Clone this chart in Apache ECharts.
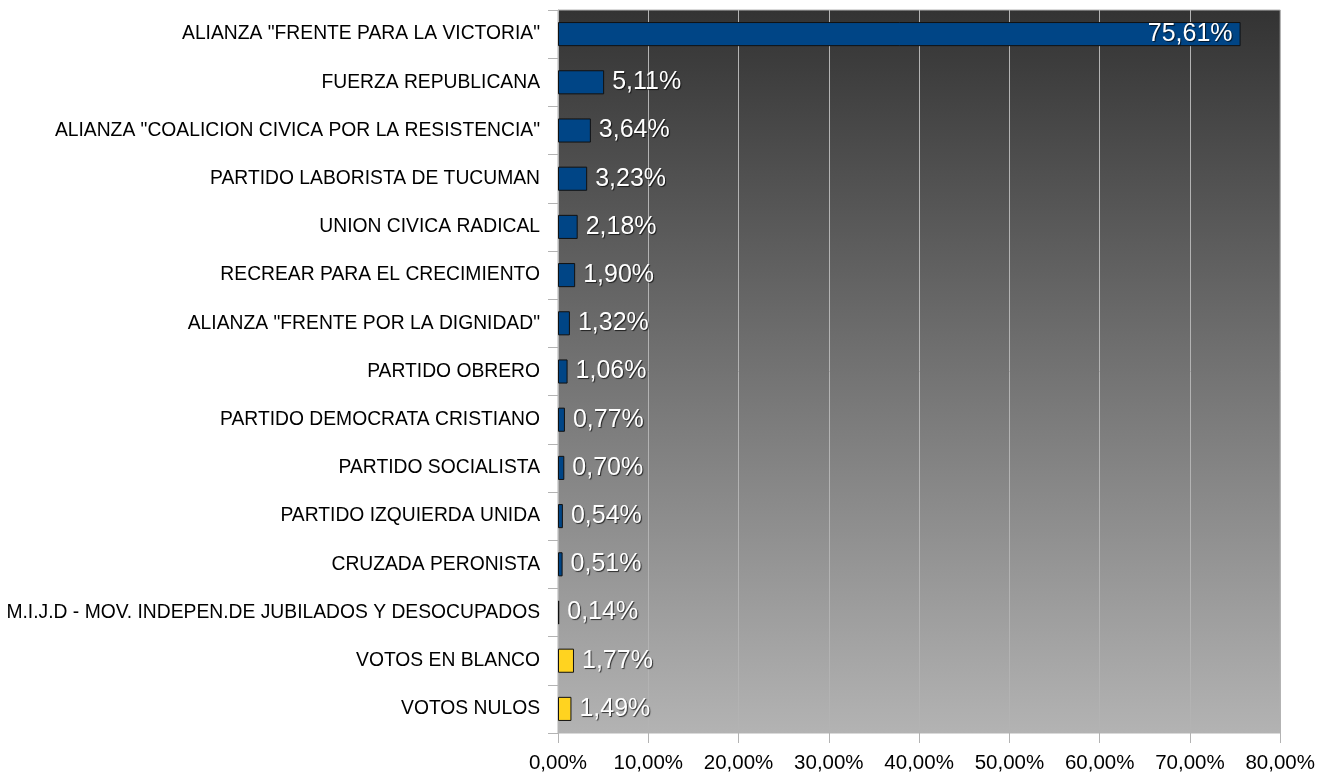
<!DOCTYPE html>
<html>
<head>
<meta charset="utf-8">
<script src="https://cdn.jsdelivr.net/npm/echarts@6/dist/echarts.min.js"></script>
<style>
  html, body { margin: 0; padding: 0; background: #fff; }
  #chart { width: 1318px; height: 774px; }
</style>
</head>
<body>
<div id="chart"></div>
<script>
const categories = [
  'ALIANZA "FRENTE PARA LA VICTORIA"',
  'FUERZA REPUBLICANA',
  'ALIANZA "COALICION CIVICA POR LA RESISTENCIA"',
  'PARTIDO LABORISTA DE TUCUMAN',
  'UNION CIVICA RADICAL',
  'RECREAR PARA EL CRECIMIENTO',
  'ALIANZA "FRENTE POR LA DIGNIDAD"',
  'PARTIDO OBRERO',
  'PARTIDO DEMOCRATA CRISTIANO',
  'PARTIDO SOCIALISTA',
  'PARTIDO IZQUIERDA UNIDA',
  'CRUZADA PERONISTA',
  'M.I.J.D - MOV. INDEPEN.DE JUBILADOS Y DESOCUPADOS',
  'VOTOS EN BLANCO',
  'VOTOS NULOS'
];
const values = [75.61, 5.11, 3.64, 3.23, 2.18, 1.90, 1.32, 1.06, 0.77, 0.70, 0.54, 0.51, 0.14, 1.77, 1.49];
const blankNull = ['VOTOS EN BLANCO', 'VOTOS NULOS'];

const fmt = v => v.toFixed(2).replace('.', ',') + '%';

const myChart = echarts.init(document.getElementById('chart'));

const data = values.map((v, i) => ({
  value: v,
  itemStyle: { color: blankNull.includes(categories[i]) ? '#ffd320' : '#004586' },
  label: i === 0 ? { position: 'insideRight', distance: 8 } : undefined
}));

const option = {
  animation: false,
  grid: {
    left: 558, right: 37, top: 10, bottom: 41,
    show: true,
    borderColor: '#b3b3b3',
    borderWidth: 1,
    backgroundColor: new echarts.graphic.LinearGradient(0, 0, 0, 1, [
      { offset: 0, color: '#333333' },
      { offset: 1, color: '#b3b3b3' }
    ])
  },
  xAxis: {
    type: 'value',
    min: 0, max: 80, interval: 10,
    axisLine: { show: false },
    axisTick: { show: true, length: 10, lineStyle: { color: '#b3b3b3' } },
    splitLine: { show: true, lineStyle: { color: '#b3b3b3', width: 1 } },
    axisLabel: {
      formatter: v => fmt(v),
      color: '#000', fontFamily: 'Liberation Sans', fontSize: 20.5, margin: 20
    }
  },
  yAxis: {
    type: 'category',
    data: categories,
    inverse: true,
    axisLine: { show: true, lineStyle: { color: '#b3b3b3' } },
    axisTick: { show: true, length: 10, lineStyle: { color: '#b3b3b3' } },
    axisLabel: {
      color: '#000', fontFamily: 'Liberation Sans', fontSize: 19.3, margin: 18
    }
  },
  series: [{
    type: 'bar',
    data: data,
    barWidth: '50%',
    itemStyle: { borderColor: '#111', borderWidth: 1 },
    label: {
      show: true,
      position: 'right',
      distance: 8,
      formatter: p => fmt(p.value),
      color: '#fff',
      fontFamily: 'Liberation Sans',
      fontSize: 25,
      textShadowColor: 'rgba(0,0,0,0.7)',
      textShadowBlur: 1,
      textShadowOffsetX: 1,
      textShadowOffsetY: 1
    }
  }]
};

option && myChart.setOption(option);
</script>
</body>
</html>
